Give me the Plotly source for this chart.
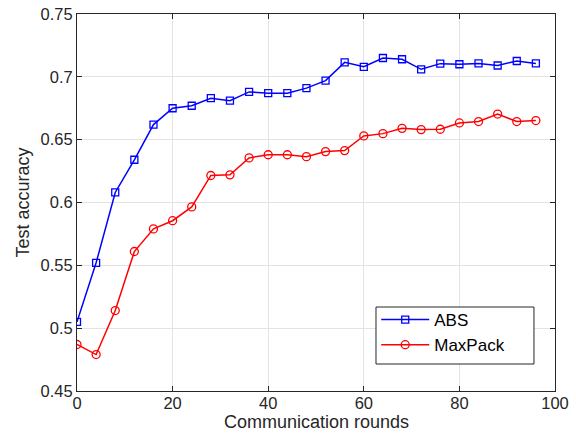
import plotly.graph_objects as go

rounds = [0, 4, 8, 12, 16, 20, 24, 28, 32, 36, 40, 44, 48, 52, 56, 60, 64, 68, 72, 76, 80, 84, 88, 92, 96]
abs_acc = [0.505, 0.552, 0.608, 0.634, 0.662, 0.675, 0.677, 0.683, 0.681, 0.688, 0.687, 0.687, 0.691, 0.697,
           0.7115, 0.708, 0.715, 0.714, 0.706, 0.7105, 0.710, 0.7107, 0.709, 0.7126, 0.7107]
maxpack_acc = [0.487, 0.479, 0.514, 0.561, 0.579, 0.5855, 0.5965, 0.6215, 0.622, 0.6355, 0.638, 0.638, 0.6365,
               0.6405, 0.6413, 0.653, 0.6548, 0.659, 0.658, 0.6583, 0.6633, 0.6644, 0.6704, 0.6644, 0.6652]

x_ticks = [0, 20, 40, 60, 80, 100]
y_ticks = [0.45, 0.5, 0.55, 0.6, 0.65, 0.7, 0.75]
y_tick_text = ["0.45", "0.5", "0.55", "0.6", "0.65", "0.7", "0.75"]

FONT = "Liberation Sans, Arial, sans-serif"
AX = "#262626"

fig = go.Figure()
fig.add_trace(go.Scatter(x=rounds, y=abs_acc, name="ABS", mode="lines+markers",
                         line=dict(color="#0000ff", width=1.5),
                         marker=dict(symbol="square-open", size=7, color="#0000ff", line=dict(width=1.3))))
fig.add_trace(go.Scatter(x=rounds, y=maxpack_acc, name="MaxPack", mode="lines+markers",
                         line=dict(color="#ff0000", width=1.5),
                         marker=dict(symbol="circle-open", size=8, color="#ff0000", line=dict(width=1.3))))

axis_common = dict(showline=True, linecolor=AX, linewidth=1, mirror="ticks", ticks="inside",
                   ticklen=5, tickcolor=AX, tickwidth=1, showgrid=True, gridcolor="#e3e3e3",
                   gridwidth=1, zeroline=False, automargin=False,
                   tickfont=dict(family=FONT, size=16.5, color=AX))

fig.update_xaxes(range=[0, 100], tickvals=x_ticks, ticklabelstandoff=-3, **axis_common)
fig.update_yaxes(range=[0.45, 0.75], tickvals=y_ticks, ticktext=y_tick_text,
                 title=dict(text="Test accuracy", font=dict(family=FONT, size=18, color=AX), standoff=6),
                 **axis_common)

fig.add_annotation(text="Communication rounds", xref="paper", yref="paper", x=0.5, y=0,
                   xanchor="center", yanchor="middle", yshift=-31, showarrow=False,
                   font=dict(family=FONT, size=18, color=AX))

# legend frame
fig.add_shape(type="rect", xref="paper", yref="paper", x0=0.6255, x1=0.956, y0=0.0716, y1=0.2228,
              line=dict(color=AX, width=1), fillcolor="white", layer="above")

fig.update_layout(
    width=576, height=433,
    margin=dict(l=77, r=21, t=14, b=42),
    paper_bgcolor="white", plot_bgcolor="white",
    font=dict(family=FONT, color=AX),
    legend=dict(x=0.626, y=0.236, xanchor="left", yanchor="top",
                borderwidth=0, bgcolor="rgba(0,0,0,0)",
                font=dict(family=FONT, size=17, color="black"),
                itemwidth=48, tracegroupgap=0),
    showlegend=True,
)

fig.write_html("out.html", config={"displayModeBar": False},
               post_script="document.body.style.margin='0px';document.body.style.overflow='hidden';")
